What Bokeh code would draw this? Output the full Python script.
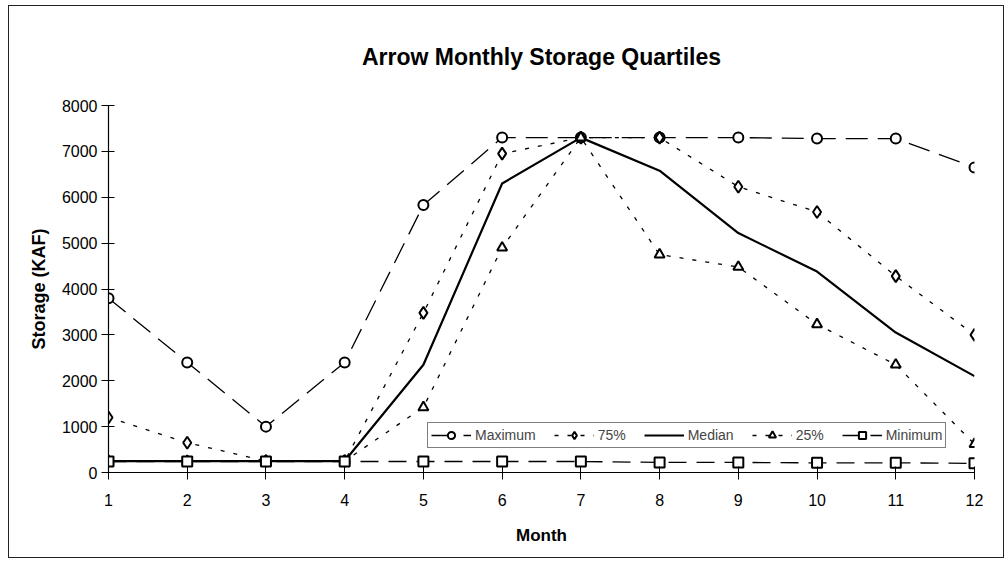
from bokeh.plotting import figure
from bokeh.models import Legend, LegendItem, Range1d, FixedTicker
from bokeh.embed import file_html
from bokeh.resources import INLINE

months = [1, 2, 3, 4, 5, 6, 7, 8, 9, 10, 11, 12]
maximum = [3800, 2400, 1000, 2400, 5830, 7300, 7300, 7300, 7300, 7280, 7280, 6650]
p75 = [1200, 650, 250, 250, 3480, 6950, 7300, 7300, 6230, 5680, 4280, 3000]
median = [250, 250, 250, 250, 2350, 6300, 7300, 6580, 5220, 4380, 3050, 2100]
p25 = [250, 250, 250, 250, 1420, 4900, 7300, 4750, 4480, 3230, 2350, 620]
minimum = [240, 240, 240, 240, 240, 240, 240, 220, 220, 210, 210, 200]
y_ticks = [0, 1000, 2000, 3000, 4000, 5000, 6000, 7000, 8000]

FONT = "Liberation Sans"

p = figure(width=996, height=553, output_backend="svg", toolbar_location=None,
           x_range=Range1d(1, 12), y_range=Range1d(0, 8000),
           min_border_left=99, min_border_right=31, min_border_top=99, min_border_bottom=87)
p.styles = {"margin-left": "8px", "margin-top": "5px", "border": "1px solid #222"}
p.outline_line_color = None
p.xgrid.visible = False
p.ygrid.visible = False

p.title.text = "Arrow Monthly Storage Quartiles"
p.title.align = "center"
p.title.standoff = 71
p.title.text_font = FONT
p.title.text_font_size = "23px"
p.title.text_font_style = "bold"
p.title.text_color = "black"

for ax in (p.xaxis[0], p.yaxis[0]):
    ax.axis_line_color = "black"
    ax.axis_line_width = 1.2
    ax.major_tick_line_color = "black"
    ax.minor_tick_line_color = None
    ax.major_label_text_font = FONT
    ax.major_label_text_font_size = "16px"
    ax.major_label_text_color = "black"
    ax.axis_label_text_font = FONT
    ax.axis_label_text_font_style = "bold"
    ax.axis_label_text_color = "black"
    ax.major_tick_in = 6
    ax.major_tick_out = 7

p.xaxis.ticker = FixedTicker(ticks=months)
p.yaxis.ticker = FixedTicker(ticks=y_ticks)
p.xaxis.axis_label = "Month"
p.yaxis.axis_label = "Storage (KAF)"
p.xaxis.axis_label_text_font_size = "17px"
p.yaxis.axis_label_text_font_size = "18px"
p.xaxis.major_label_standoff = 14
p.xaxis.axis_label_standoff = 17
p.yaxis.major_label_standoff = 4
p.yaxis.axis_label_standoff = 10

lw = 1.3
items = []
r1 = p.line(months, maximum, line_color="black", line_width=lw, line_dash="22 10")
m1 = p.scatter(months, maximum, marker="circle", size=10, fill_color="white", line_color="black", line_width=2)
items.append(LegendItem(label="Maximum", renderers=[r1, m1]))

r2 = p.line(months, p75, line_color="black", line_width=lw, line_dash="4 9")
m2 = p.scatter(months, p75, marker="diamond", size=12, fill_color="white", line_color="black", line_width=2)
items.append(LegendItem(label="75%", renderers=[r2, m2]))

r3 = p.line(months, median, line_color="black", line_width=2.2)
items.append(LegendItem(label="Median", renderers=[r3]))

r4 = p.line(months, p25, line_color="black", line_width=lw, line_dash="4 9")
m4 = p.scatter(months, p25, marker="triangle", size=10, fill_color="white", line_color="black", line_width=2)
items.append(LegendItem(label="25%", renderers=[r4, m4]))

r5 = p.line(months, minimum, line_color="black", line_width=lw, line_dash="18 10")
m5 = p.scatter(months, minimum, marker="square", size=10, fill_color="white", line_color="black", line_width=2)
items.append(LegendItem(label="Minimum", renderers=[r5, m5]))

legend = Legend(items=items, orientation="horizontal", location=(319, 24),
                label_text_font=FONT, label_text_font_size="14px",
                border_line_color="black", border_line_width=1,
                background_fill_color="white", background_fill_alpha=1,
                padding=3, spacing=18, glyph_width=40, glyph_height=18,
                label_standoff=4, margin=0, label_height=18)
p.add_layout(legend, "center")

open("out.html", "w").write(file_html(p, INLINE))
